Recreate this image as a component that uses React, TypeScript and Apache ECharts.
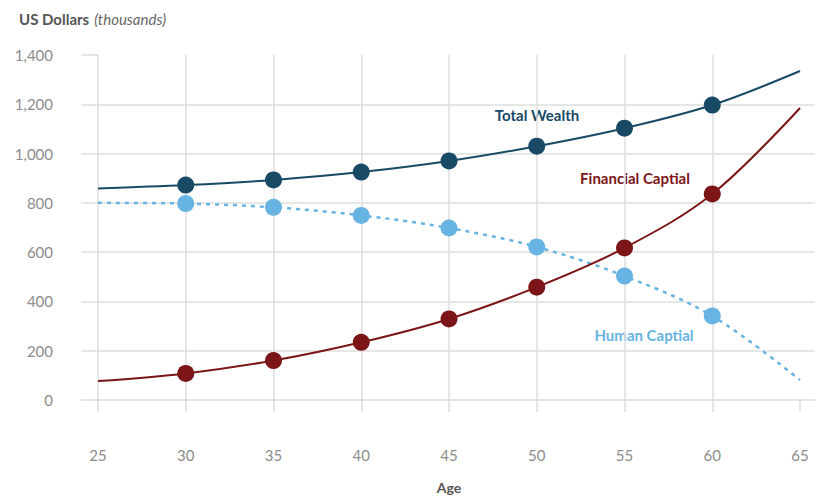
import React, { useEffect, useRef } from "react";
import * as echarts from "echarts";

const ages = [25, 30, 35, 40, 45, 50, 55, 60, 65];
const totalWealth = [858, 872, 893, 925, 970, 1030, 1103, 1197, 1335];
const financialCapital = [77, 108, 160, 234, 329, 458, 617, 836, 1185];
const humanCapital = [800, 797, 782, 749, 698, 621, 503, 341, 81];
const markedAges = [30, 35, 40, 45, 50, 55, 60];
const yTicks = [0, 200, 400, 600, 800, 1000, 1200, 1400];

const C_TOTAL = "#184a66";
const C_FIN = "#7b1518";
const C_HUMAN = "#67b4e3";
const FONT = "Lato, 'Open Sans', sans-serif";

function buildData(values: number[]) {
  return ages.map((a, i) => ({
    value: [a, values[i]],
    symbol: markedAges.includes(a) ? "circle" : "none",
  }));
}

export default function App() {
  const ref = useRef<HTMLDivElement>(null);
  useEffect(() => {
    if (!ref.current) return;
    const chart = echarts.init(ref.current, undefined, { renderer: "svg" });
    const gridColor = "#dedede";
    chart.setOption({
      animation: false,
      backgroundColor: "#ffffff",
      title: {
        left: 14,
        top: 5,
        text: "{b|US Dollars} {i|(thousands)}",
        textStyle: {
          fontWeight: "normal",
          rich: {
            b: { fontFamily: FONT, fontWeight: "bold", fontSize: 15, color: "#555555" },
            i: { fontFamily: FONT, fontStyle: "italic", fontWeight: "normal", fontSize: 15, color: "#666666" },
          },
        },
      },
      grid: [
        { left: 98, right: 3, top: 55, bottom: 100 },
        { left: 98, right: 18, top: 55, bottom: 100 },
      ],
      xAxis: [
        { gridIndex: 0, type: "value", min: 0, max: 1, show: false },
        {
          gridIndex: 1,
          type: "value",
          min: 25,
          max: 65,
          interval: 5,
          offset: 20,
          name: "Age",
          nameLocation: "middle",
          nameGap: 60,
          nameTextStyle: { fontFamily: FONT, fontWeight: "bold", fontSize: 14, color: "#555555" },
          axisLine: { show: false },
          axisTick: { show: true, length: 12, lineStyle: { color: gridColor, width: 1.5 } },
          axisLabel: { margin: 27, fontFamily: FONT, fontSize: 15, color: "#8c8c8c" },
          splitLine: { show: true, showMaxLine: false, lineStyle: { color: gridColor, width: 1.5 } },
        },
      ],
      yAxis: [
        {
          gridIndex: 0,
          type: "value",
          min: 0,
          max: 1400,
          interval: 200,
          offset: 18,
          axisLine: { show: false },
          axisTick: { show: true, length: 17, lineStyle: { color: gridColor, width: 1.5 } },
          axisLabel: {
            margin: 27,
            fontFamily: FONT,
            fontSize: 15,
            color: "#8c8c8c",
            formatter: (v: number) => (yTicks.includes(v) ? v.toLocaleString("en-US") : ""),
          },
          splitLine: { show: true, showMaxLine: false, lineStyle: { color: gridColor, width: 1.5 } },
        },
        { gridIndex: 1, type: "value", min: 0, max: 1400, interval: 200, show: false },
      ],
      series: [
        {
          name: "Human Captial",
          type: "line",
          xAxisIndex: 1,
          yAxisIndex: 1,
          smooth: 0.35,
          data: buildData(humanCapital),
          symbolSize: 17,
          itemStyle: { color: C_HUMAN },
          lineStyle: { color: C_HUMAN, width: 2.5, type: [4, 5] },
          z: 3,
        },
        {
          name: "Financial Captial",
          type: "line",
          xAxisIndex: 1,
          yAxisIndex: 1,
          smooth: 0.35,
          data: buildData(financialCapital),
          symbolSize: 17,
          itemStyle: { color: C_FIN },
          lineStyle: { color: C_FIN, width: 2 },
          z: 4,
        },
        {
          name: "Total Wealth",
          type: "line",
          xAxisIndex: 1,
          yAxisIndex: 1,
          smooth: 0.35,
          data: buildData(totalWealth),
          symbolSize: 17,
          itemStyle: { color: C_TOTAL },
          lineStyle: { color: C_TOTAL, width: 2 },
          z: 5,
        },
      ],
      graphic: [
        {
          type: "text",
          x: 537,
          y: 115,
          style: { text: "Total Wealth", fill: C_TOTAL, font: `bold 15px ${FONT}`, align: "center", verticalAlign: "middle" },
        },
        {
          type: "text",
          x: 635,
          y: 178,
          style: { text: "Financial Captial", fill: C_FIN, font: `bold 15px ${FONT}`, align: "center", verticalAlign: "middle" },
        },
        {
          type: "text",
          x: 644,
          y: 335,
          style: { text: "Human Captial", fill: C_HUMAN, font: `bold 15px ${FONT}`, align: "center", verticalAlign: "middle" },
        },
      ],
    });
    return () => chart.dispose();
  }, []);
  return <div ref={ref} style={{ width: 818, height: 500, position: "absolute", left: 0, top: 0 }} />;
}
